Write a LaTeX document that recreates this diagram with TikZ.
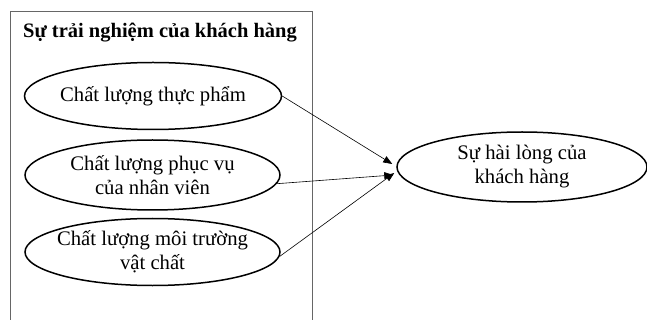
\documentclass[tikz,border=0pt]{standalone}
\usepackage{fontspec}
\setmainfont{Liberation Serif}
\usetikzlibrary{shapes.geometric,arrows.meta}
\begin{document}
\begin{tikzpicture}[x=1pt,y=-1pt,
  ell/.style={draw,ellipse,line width=1.5pt,inner sep=0pt},
  txt/.style={align=center,font=\fontsize{20.7}{24}\selectfont},
  arr/.style={line width=0.6pt,-{Triangle[length=9pt,width=7pt]}}]
\useasboundingbox (0,0) rectangle (647,320);
\draw[line width=1pt,gray!80!black] (10,12) -- (10,330) (10,12) -- (312,12) -- (312,330);
\node[font=\bfseries\fontsize{20.5}{24}\selectfont] (title) at (160,33) {Sự trải nghiệm của khách hàng};
\node[ell,minimum width=257pt,minimum height=67pt,label={[txt]center:Chất lượng thực phẩm}] (e1) at (153,96) {};
\node[ell,minimum width=255pt,minimum height=70pt,label={[txt]center:{Chất lượng phục vụ\\của nhân viên}}] (e2) at (152.5,175) {};
\node[ell,minimum width=255pt,minimum height=67pt,label={[txt]center:{Chất lượng môi trường\\vật chất}}] (e3) at (152.5,252) {};
\node[ell,minimum width=250pt,minimum height=70pt,label={[txt]center:{Sự hài lòng của\\khách hàng}}] (r) at (522,167) {};
\draw[arr] (e1.0) -- ([xshift=-4pt,yshift=3pt]r.west);
\draw[arr] (e2.-4.5) -- ([xshift=-3pt,yshift=-8pt]r.west);
\draw[arr] (e3.-2) -- ([xshift=-2pt,yshift=-6pt]r.west);
\end{tikzpicture}
\end{document}
